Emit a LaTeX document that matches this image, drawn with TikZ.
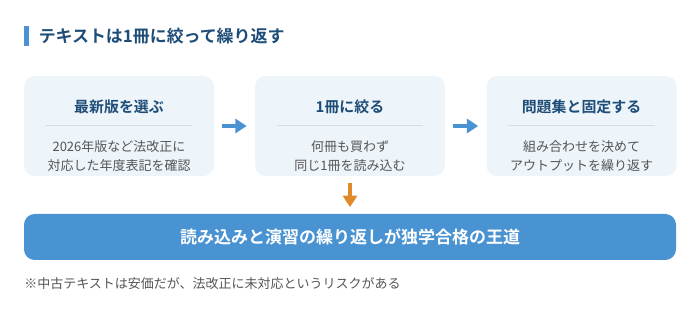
\documentclass[tikz,border=0pt]{standalone}
\usepackage{fontspec}
\setmainfont{Noto Sans CJK JP}[BoldFont={Noto Sans CJK JP Bold}]
\usepackage{xcolor}
\definecolor{planNavy}{HTML}{1E4D78}
\definecolor{planAzure}{HTML}{4A93D2}
\definecolor{planBlueBg}{HTML}{EDF4FA}
\definecolor{planRule}{HTML}{D3DEE9}
\definecolor{planGrey}{HTML}{555555}
\definecolor{planOrange}{HTML}{E08A2B}
\usepackage{tikz}
\usetikzlibrary{arrows.meta, positioning, calc}
\tikzset{
  %% ── Boxes ────────────────────────────────────────────────────────────
  etape/.style      = {fill=planBlueBg, rounded corners=8pt,
                       minimum width=190*0.75pt, minimum height=100*0.75pt},
  etapeTitre/.style = {font=\fontsize{11.2}{14}\selectfont\bfseries,
                       text=planNavy, inner sep=0pt},
  etapeTexte/.style = {font=\fontsize{9.75}{14.25}\selectfont,
                       text=planGrey, align=center, inner sep=0pt},
  filet/.style      = {draw=planRule, line width=0.75pt},
  bandeau/.style    = {fill=planAzure, rounded corners=8pt, text=white,
                       font=\fontsize{12.75}{16}\selectfont\bfseries,
                       minimum width=652*0.75pt, minimum height=46*0.75pt},
  %%
  %% ── Arrows ───────────────────────────────────────────────────────────
  fleche/.style     = {-{Triangle[length=8.5pt, width=10.5pt]}, draw=planAzure,
                       line width=2.4pt, shorten <=6pt, shorten >=6pt},
  flecheBas/.style  = {-{Triangle[length=8.5pt, width=10.5pt]}, draw=planOrange,
                       line width=2.4pt, shorten <=5pt, shorten >=5pt},
  %%
  %% ── Text ─────────────────────────────────────────────────────────────
  titre/.style      = {font=\fontsize{12.7}{15}\selectfont\bfseries,
                       text=planNavy, anchor=west, inner sep=0pt},
  note/.style       = {font=\fontsize{9.75}{12}\selectfont, text=planGrey,
                       anchor=west, inner sep=0pt},
}

\begin{document}
\begin{tikzpicture}[x=0.75pt, y=-0.75pt]

\useasboundingbox (0, 0) rectangle (700, 316);

%% heading
\fill[planAzure] (24, 26) rectangle (28.5, 46);
\node[titre] (titre) at (38.5, 36) {テキストは1冊に絞って繰り返す};

%% the three steps
\node[etape] (choix)  at (119, 126)   {};
\node[etape] (un)     at (350, 126)   {};
\node[etape] (fixe)   at (581.5, 126) {};

\node[etapeTitre] (choixT) at (119, 106.5)   {最新版を選ぶ};
\node[etapeTitre] (unT)    at (350, 106.5)   {1冊に絞る};
\node[etapeTitre] (fixeT)  at (581.5, 106.5) {問題集と固定する};

\draw[filet] ($(choix.west)+(22, 0)$) -- ($(choix.east)+(-22, 0)$);
\draw[filet] ($(un.west)+(22, 0)$)    -- ($(un.east)+(-22, 0)$);
\draw[filet] ($(fixe.west)+(22, 0)$)  -- ($(fixe.east)+(-22, 0)$);

\node[etapeTexte] (choixB) at (119, 156.5)
     {2026年版など法改正に\\対応した年度表記を確認};
\node[etapeTexte] (unB)    at (350, 156.5)
     {何冊も買わず\\同じ1冊を読み込む};
\node[etapeTexte] (fixeB)  at (581.5, 156.5)
     {組み合わせを決めて\\アウトプットを繰り返す};

%% result
\node[bandeau] (voie) at (350, 237)
     {読み込みと演習の繰り返しが独学合格の王道};

\draw[fleche] (choix.east) -- (un.west);
\draw[fleche] (un.east) -- (fixe.west);
\draw[flecheBas] (un.south) -- (voie.north);

\node[note] (remarque) at (24, 284)
     {※中古テキストは安価だが、法改正に未対応というリスクがある};

\end{tikzpicture}
\end{document}
